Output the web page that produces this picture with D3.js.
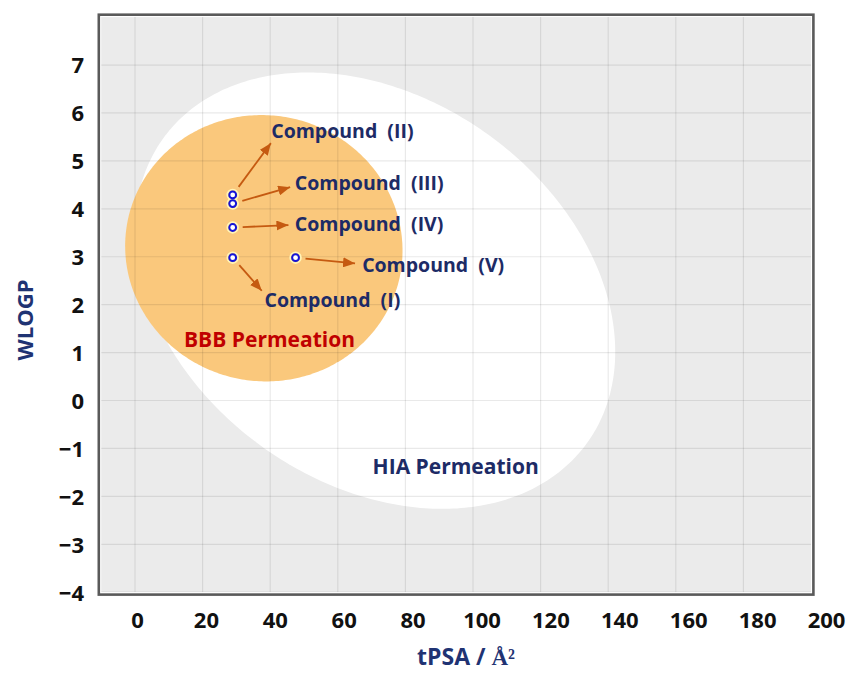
<!DOCTYPE html>
<html>
<head>
<meta charset="utf-8">
<script src="https://cdn.jsdelivr.net/npm/d3@7/dist/d3.min.js"></script>
<style>
  html, body { margin: 0; padding: 0; background: #ffffff; }
  svg { display: block; }
  text { font-family: "Open Sans", "DejaVu Sans", sans-serif; font-weight: 700; }
</style>
</head>
<body>
<svg id="chart" width="850" height="673"></svg>
<script>
// Compounds plotted on the BOILED-Egg (tPSA vs WLOGP)
const compounds = ["Compound (I)", "Compound (II)", "Compound (III)", "Compound (IV)", "Compound (V)"];
const tpsa  = [28.9, 28.9, 28.9, 28.9, 47.5];
const wlogp = [2.98, 4.29, 4.11, 3.61, 2.98];

// Annotation anchors (data units): arrow tips and label baselines
const arrowTipX = [37.5, 40.2, 45.9, 45.4, 65.1];
const arrowTipY = [2.29, 5.37, 4.45, 3.66, 2.86];
const labelX = [38.3, 40.3, 47.3, 47.3, 67.2];
const labelY = [1.945, 5.47, 4.39, 3.54, 2.69];

// Egg regions: centre, semi-axes and rotation (degrees) in data space
const hiaEllipse = { cx: 71.051, cy: 2.292, a: 71.04, b: 4.37, angle: -1.0313 };
const bbbEllipse = { cx: 38.117, cy: 3.177, a: 41.03, b: 2.7785, angle: -0.0663 };

const xTicks = [0, 20, 40, 60, 80, 100, 120, 140, 160, 180, 200];
const yTicks = [-4, -3, -2, -1, 0, 1, 2, 3, 4, 5, 6, 7];
const xGrid = [0, 20, 40, 60, 80, 100, 120, 140, 160, 180];
const yGrid = [-4, -3, -2, -1, 0, 1, 2, 3, 4, 5, 6, 7];

const svg = d3.select("#chart");

const plot = { left: 101.2, right: 811, top: 17.1, bottom: 592.2 };
const x = d3.scaleLinear().domain([-10, 200]).range([plot.left, plot.right]);
const y = d3.scaleLinear().domain([-4, 8]).range([plot.bottom, plot.top]);
// tick labels sit on a slightly wider spacing than the grid
const xLabel = d3.scaleLinear().domain([0, 200]).range([137, 826]);

const navy = "#1d2b66";
const arrowColor = "#c55a11";

// plot background
svg.append("rect")
  .attr("x", plot.left).attr("y", plot.top)
  .attr("width", plot.right - plot.left).attr("height", plot.bottom - plot.top)
  .attr("fill", "#ebebeb");

svg.append("defs").append("clipPath").attr("id", "plotClip")
  .append("rect")
  .attr("x", plot.left).attr("y", plot.top)
  .attr("width", plot.right - plot.left).attr("height", plot.bottom - plot.top);

const g = svg.append("g").attr("clip-path", "url(#plotClip)");

function ellipsePoints(e) {
  const th = e.angle * Math.PI / 180;
  return d3.range(0, 360, 1).map(deg => {
    const t = deg * Math.PI / 180;
    const ex = e.a * Math.cos(t), ey = e.b * Math.sin(t);
    return [e.cx + ex * Math.cos(th) - ey * Math.sin(th),
            e.cy + ex * Math.sin(th) + ey * Math.cos(th)];
  });
}
const ellipseLine = d3.line().x(d => x(d[0])).y(d => y(d[1])).curve(d3.curveLinearClosed);

g.append("path").attr("d", ellipseLine(ellipsePoints(hiaEllipse))).attr("fill", "#ffffff");
g.append("path").attr("d", ellipseLine(ellipsePoints(bbbEllipse))).attr("fill", "#fac87c");

// grid drawn over the regions, faintly
g.selectAll(".vgrid").data(xGrid).join("line")
  .attr("x1", d => x(d)).attr("x2", d => x(d))
  .attr("y1", plot.top).attr("y2", plot.bottom)
  .attr("stroke", "rgba(0,0,0,0.085)").attr("stroke-width", 1.2);
g.selectAll(".hgrid").data(yGrid).join("line")
  .attr("x1", plot.left).attr("x2", plot.right)
  .attr("y1", d => y(d)).attr("y2", d => y(d))
  .attr("stroke", "rgba(0,0,0,0.085)").attr("stroke-width", 1.2);

// frame
svg.append("rect")
  .attr("x", plot.left - 0.7).attr("y", plot.top - 0.7)
  .attr("width", plot.right - plot.left + 1.4).attr("height", plot.bottom - plot.top + 1.4)
  .attr("fill", "none").attr("stroke", "#ffffff").attr("stroke-width", 1);
svg.append("rect")
  .attr("x", plot.left - 2.4).attr("y", plot.top - 2.4)
  .attr("width", plot.right - plot.left + 4.8).attr("height", plot.bottom - plot.top + 4.8)
  .attr("fill", "none").attr("stroke", "#5a5a5a").attr("stroke-width", 2.6);

// axes
const xAxis = svg.append("g")
  .attr("transform", "translate(0,628)")
  .call(d3.axisBottom(xLabel).tickValues(xTicks).tickSize(0).tickPadding(0));
xAxis.select(".domain").remove();
xAxis.selectAll("text")
  .attr("dy", 0).attr("y", 0)
  .attr("fill", "#111111")
  .style("font-size", "22px");

const yAxis = svg.append("g")
  .attr("transform", "translate(84,0)")
  .call(d3.axisLeft(y).tickValues(yTicks).tickSize(0).tickPadding(0));
yAxis.select(".domain").remove();
yAxis.selectAll("text")
  .attr("dy", "0.36em")
  .attr("fill", "#111111")
  .style("font-size", "22px");

// axis titles
const xt = svg.append("text")
  .attr("x", 466).attr("y", 665)
  .attr("text-anchor", "middle")
  .attr("fill", "#1f3373")
  .style("font-size", "23px");
xt.append("tspan").text("tPSA / ");
xt.append("tspan").text("Å²")
  .style("font-family", "\"Liberation Serif\", \"DejaVu Serif\", serif");

svg.append("text")
  .attr("transform", "translate(33,320) rotate(-90)")
  .attr("text-anchor", "middle")
  .attr("fill", "#1f3373")
  .style("font-size", "22px")
  .text("WLOGP");

// arrowhead
svg.select("defs").append("marker")
  .attr("id", "head")
  .attr("markerUnits", "userSpaceOnUse")
  .attr("viewBox", "0 0 12 10")
  .attr("refX", 12).attr("refY", 5)
  .attr("markerWidth", 12).attr("markerHeight", 10)
  .attr("orient", "auto")
  .append("path").attr("d", "M0,0 L12,5 L0,10 Z").attr("fill", arrowColor);

// arrows start a small gap away from each point
const gap = 10;
const arrows = compounds.map((c, i) => {
  const px = x(tpsa[i]), py = y(wlogp[i]);
  const tx = x(arrowTipX[i]), ty = y(arrowTipY[i]);
  const len = Math.hypot(tx - px, ty - py);
  return { x1: px + (tx - px) / len * gap, y1: py + (ty - py) / len * gap, x2: tx, y2: ty };
});
svg.selectAll(".arrow").data(arrows).join("line")
  .attr("class", "arrow")
  .attr("x1", d => d.x1).attr("y1", d => d.y1)
  .attr("x2", d => d.x2).attr("y2", d => d.y2)
  .attr("stroke", arrowColor).attr("stroke-width", 1.8)
  .attr("marker-end", "url(#head)");

// points
const pts = compounds.map((c, i) => ({ name: c, tpsa: tpsa[i], wlogp: wlogp[i] }));
svg.selectAll(".halo").data(pts).join("circle")
  .attr("cx", d => x(d.tpsa)).attr("cy", d => y(d.wlogp)).attr("r", 5.4)
  .attr("fill", "none").attr("stroke", "#fff4b8").attr("stroke-width", 1.6);
svg.selectAll(".pt").data(pts).join("circle")
  .attr("cx", d => x(d.tpsa)).attr("cy", d => y(d.wlogp)).attr("r", 3.4)
  .attr("fill", "#ffffff").attr("stroke", "#1414d8").attr("stroke-width", 2);

// compound labels
svg.selectAll(".clabel").data(compounds).join("text")
  .attr("x", (d, i) => x(labelX[i])).attr("y", (d, i) => y(labelY[i]))
  .attr("fill", navy)
  .style("font-size", "19.5px")
  .style("white-space", "pre")
  .text(d => d.replace(" ", "  "));

// region labels
svg.append("text")
  .attr("x", x(14.5)).attr("y", y(1.123))
  .attr("fill", "#c00000")
  .style("font-size", "21px")
  .text("BBB Permeation");
svg.append("text")
  .attr("x", x(70.3)).attr("y", y(-1.54))
  .attr("fill", navy)
  .style("font-size", "21px")
  .text("HIA Permeation");
</script>
</body>
</html>
